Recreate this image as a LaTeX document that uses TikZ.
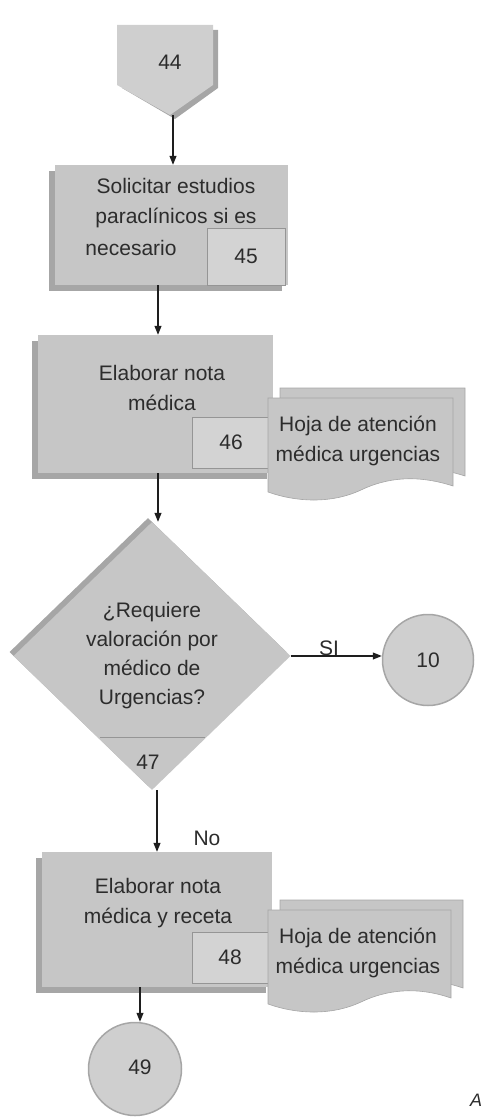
\documentclass[tikz,border=0pt]{standalone}
\usepackage{fontspec}
\setmainfont{Liberation Sans}
\usetikzlibrary{arrows.meta,shapes.geometric}
\definecolor{boxfill}{HTML}{C6C6C6}
\definecolor{boxshade}{HTML}{A6A6A6}
\definecolor{numfill}{HTML}{D3D3D3}
\definecolor{numline}{HTML}{959595}
\definecolor{inkgray}{HTML}{2C2C2C}
\definecolor{wirecol}{HTML}{1E1E1E}
\begin{document}
\begin{tikzpicture}[x=1pt,y=-1pt,
  every node/.style={font=\fontsize{21}{30}\selectfont, text=inkgray, inner sep=0pt},
  procbox/.style={rectangle, fill=boxfill, minimum width=#1, minimum height=120pt},
  numbox/.style={rectangle, fill=numfill, draw=numline, line width=0.8pt, minimum width=78pt, minimum height=52pt},
  shadebox/.style={fill=boxshade},
  decision/.style={diamond, fill=boxfill, minimum width=277pt, minimum height=268pt},
  connector/.style={circle, fill=boxfill!85!white, draw=boxshade, line width=1.5pt, minimum size=91pt},
  flow/.style={draw=wirecol, line width=1.1pt, -{Triangle[length=9pt,width=7pt]}},
  sheet/.style={fill=boxfill, draw=boxshade, line width=0.6pt},
  linetext/.style={align=center}
]
\useasboundingbox (0,0) rectangle (480,1118);
\clip (0,0) rectangle (480,1118);

% off-page connector 44
\fill[boxshade] (122,30) -- (218,30) -- (218,88) -- (175,119) -- (122,88) -- cycle;
\fill[boxfill!85!white] (117,25) -- (213,25) -- (213,85) -- (170,115) -- (117,85) -- cycle;
\node (c44) at (170,62) {44};

% step 45
\fill[shadebox] (49,171) rectangle (282,291);
\node[procbox=233pt, minimum height=120pt] (b1) at (171.5,225) {};
\node[linetext] (t45) at (176,203) {Solicitar estudios\\paraclínicos si es};
\node (t45b) at (131,248) {necesario};
\node[numbox, minimum height=57pt] (n45) at (246,256.5) {45};

% step 46
\fill[shadebox] (32,341) rectangle (267,479);
\node[procbox=235pt, minimum height=138pt] (b2) at (155.5,404) {};
\node[linetext] (t46) at (162,388) {Elaborar nota\\médica};
\node[numbox, minimum height=51pt] (n46) at (231,442.5) {46};

% record sheets for step 46
\begin{scope}[shift={(268,388)}]
  \path[sheet] (12,0) -- (197,0) -- (197,88)
    .. controls (160,76) and (130,80) .. (105,92)
    .. controls (75,106) and (40,104) .. (12,94) -- cycle;
  \path[sheet] (0,10) -- (185,10) -- (185,98)
    .. controls (148,86) and (118,90) .. (93,102)
    .. controls (63,116) and (28,114) .. (0,104) -- cycle;
\end{scope}
\node[linetext] (h46) at (358,441) {Hoja de atención\\médica urgencias};

% decision 47
\node[decision, fill=boxshade] (d47s) at (148,652) {};
\node[decision] (d47) at (152,656) {};
\draw[numline, line width=0.8pt] (100,737) -- (205,737);
\node[linetext, font=\fontsize{21}{29}\selectfont] (q47) at (152,656) {¿Requiere\\valoración por\\médico de\\Urgencias?};
\node (n47) at (148,762) {47};

% connector 10
\node[connector] (c10) at (428,660) {10};

% step 48
\fill[shadebox] (36,858) rectangle (266,993);
\node[procbox=230pt, minimum height=135pt] (b4) at (157,919.5) {};
\node[linetext] (t48) at (158,903) {Elaborar nota\\médica y receta};
\node[numbox, minimum width=76pt, minimum height=51pt] (n48) at (230,957.5) {48};

% record sheets for step 48
\begin{scope}[shift={(268,900)}]
  \path[sheet] (12,0) -- (195,0) -- (195,88)
    .. controls (160,76) and (130,80) .. (105,92)
    .. controls (75,106) and (40,104) .. (12,94) -- cycle;
  \path[sheet] (0,10) -- (183,10) -- (183,98)
    .. controls (148,86) and (118,90) .. (93,102)
    .. controls (63,116) and (28,114) .. (0,104) -- cycle;
\end{scope}
\node[linetext] (h48) at (358,953) {Hoja de atención\\médica urgencias};

% connector 49
\node[connector, minimum size=93pt] (c49) at (135,1069) {};
\node (t49) at (140,1067) {49};

% flow lines
\coordinate (c44tip) at (173,115);
\draw[flow] (c44tip) -- (c44tip |- b1.north);
\draw[flow] (b1.south -| 158,0) -- (b2.north -| 158,0);
\draw[flow] (b2.south -| 158,0) -- (d47.north -| 158,0);
\draw[flow] (d47.east) -- node[pos=0.42, yshift=8pt] (si) {SI} (d47.east -| c10.west);
\draw[flow] (d47.south -| 157,0) -- node[pos=0.78, xshift=50pt] (no) {No} (b4.north -| 157,0);
\draw[flow] (b4.south -| 140,0) -- (c49.north -| 140,0);

% stray caption at the lower right edge
\node[anchor=west, font=\fontsize{18}{18}\selectfont\itshape] (cap) at (470,1100) {A};
\end{tikzpicture}
\end{document}
